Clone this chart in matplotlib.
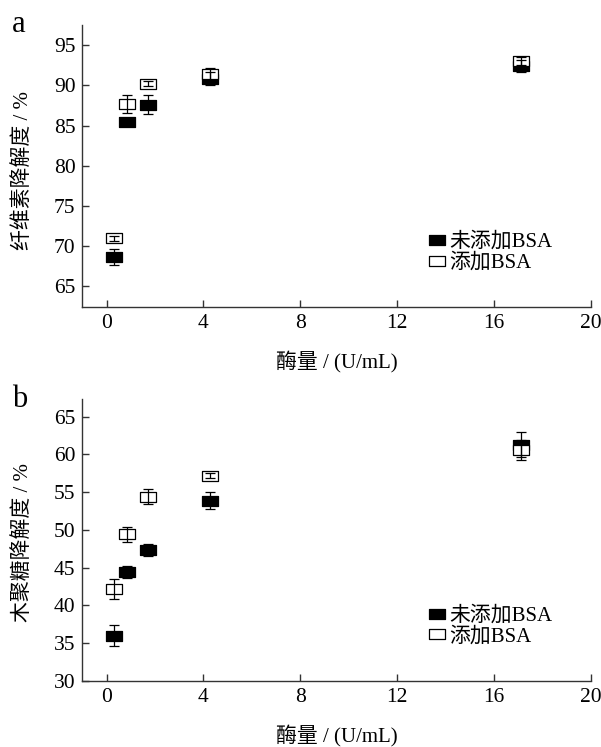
import matplotlib
matplotlib.use("Agg")
import matplotlib.pyplot as plt
from matplotlib.path import Path
import numpy as np

plt.rcParams['font.family'] = ['Liberation Serif', 'Noto Sans CJK SC']

# Data
enzyme = [0.3, 0.83, 1.7, 4.28, 17.1]
a_no_bsa = [68.6, 85.4, 87.6, 90.8, 92.4]
a_no_bsa_err = [1.0, 0.3, 1.2, 0.8, 0.7]
a_bsa = [71.0, 87.7, 90.2, 91.4, 93.0]
a_bsa_err = [0.3, 1.1, 0.3, 0.8, 0.5]

b_no_bsa = [36.0, 44.4, 47.4, 53.9, 61.3]
b_no_bsa_err = [1.4, 0.8, 0.8, 1.1, 1.7]
b_bsa = [42.2, 49.4, 54.4, 57.2, 60.6]
b_bsa_err = [1.3, 1.0, 1.0, 0.3, 1.3]

xticks = [0, 4, 8, 12, 16, 20]
a_yticks = [65, 70, 75, 80, 85, 90, 95]
b_yticks = [30, 35, 40, 45, 50, 55, 60, 65]

label_no = '未添加BSA'
label_yes = '添加BSA'
xlabel = '酶量 / (U/mL)'
a_ylabel = '纤维素降解度 / %'
b_ylabel = '木聚糖降解度 / %'

rect = Path([(-0.8, -0.5), (0.8, -0.5), (0.8, 0.5), (-0.8, 0.5), (-0.8, -0.5)],
            [Path.MOVETO, Path.LINETO, Path.LINETO, Path.LINETO, Path.CLOSEPOLY])

fig = plt.figure(figsize=(6.01, 7.47), dpi=100)
axa = fig.add_axes([0.137, 0.5886, 0.846, 0.378])
axb = fig.add_axes([0.137, 0.0884, 0.846, 0.377])

spine_c = '#333333'

def panel(ax, no, no_err, yes, yes_err, ylim, yticks, ylabel, ylab_y, leg_anchor, letter):
    ax.plot(enzyme, no, linestyle='none', marker=rect, markersize=11.5,
            markerfacecolor='black', markeredgecolor='black', markeredgewidth=0.9,
            zorder=2, label=label_no)
    ax.plot(enzyme, yes, linestyle='none', marker=rect, markersize=11.5,
            markerfacecolor='white', markeredgecolor='black', markeredgewidth=0.9,
            zorder=3, label=label_yes)
    ax.errorbar(enzyme, no, yerr=no_err, fmt='none', ecolor='black',
                elinewidth=0.9, capsize=3.6, capthick=0.9, zorder=4)
    ax.errorbar(enzyme, yes, yerr=yes_err, fmt='none', ecolor='black',
                elinewidth=0.9, capsize=3.6, capthick=0.9, zorder=4)
    ax.set_xlim(-1, 20)
    ax.set_ylim(*ylim)
    ax.set_xticks(xticks)
    ax.set_yticks(yticks)
    for s in ['top', 'right']:
        ax.spines[s].set_visible(False)
    for s in ['left', 'bottom']:
        ax.spines[s].set_color(spine_c)
        ax.spines[s].set_linewidth(1.0)
    ax.tick_params(direction='in', length=5, width=1.0, color=spine_c,
                   labelsize=15.5, pad=5)
    ax.set_xlabel(xlabel, fontsize=15)
    ax.xaxis.set_label_coords(0.5, -0.197)
    ax.xaxis.label.set_va('center')
    ax.set_ylabel(ylabel, fontsize=15)
    ax.yaxis.set_label_coords(-0.1175, ylab_y)
    ax.yaxis.label.set_va('center')
    ax.legend(loc='upper left', bbox_to_anchor=leg_anchor, frameon=False,
              fontsize=15, handletextpad=0.1, handlelength=0.9,
              labelspacing=0.05, borderaxespad=0, borderpad=0)
    ax.text(-0.138, 1.0, letter, transform=ax.transAxes, fontsize=22,
            ha='left', va='center')

panel(axa, a_no_bsa, a_no_bsa_err, a_bsa, a_bsa_err, (62.4, 97.5), a_yticks,
      a_ylabel, 0.486, (0.68, 0.265), 'a')
panel(axb, b_no_bsa, b_no_bsa_err, b_bsa, b_bsa_err, (30, 67.3), b_yticks,
      b_ylabel, 0.49, (0.68, 0.265), 'b')

fig.savefig('out.png', dpi=100)
